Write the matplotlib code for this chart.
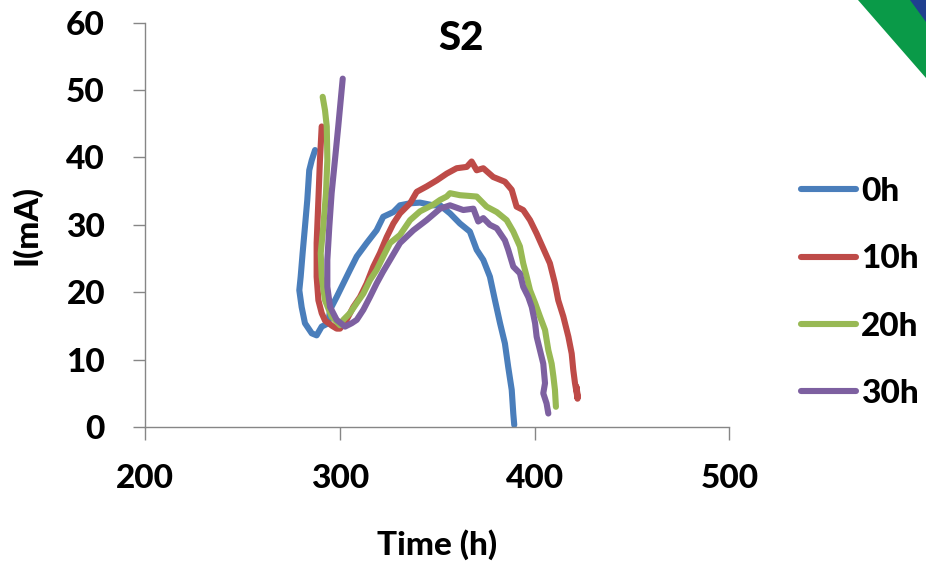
import matplotlib
matplotlib.use("Agg")
import matplotlib.pyplot as plt
from matplotlib.patches import Polygon

plt.rcParams['font.family'] = ['Lato', 'DejaVu Sans']

# ---- data (time in h, current in mA) ----
t_0h = [287.2, 285.5, 284.2, 283.2, 282.0, 280.8, 279.8, 279.1, 280.3, 282.0, 285.5, 288.0,
        290.6, 294.0, 294.9, 298.3, 301.7, 305.1, 308.6, 313.7, 318.8, 322.2, 327.4, 330.8,
        336.0, 341.1, 347.9, 351.4, 356.5, 361.6, 366.7, 370.2, 373.6, 377.0, 379.6, 382.2,
        384.7, 386.4, 388.2, 389.0, 389.5]
i_0h = [41.1, 39.6, 38.1, 33.7, 29.7, 25.8, 22.3, 20.3, 17.8, 15.4, 13.9, 13.6,
        14.9, 15.4, 17.4, 19.3, 21.3, 23.3, 25.3, 27.3, 29.2, 31.2, 31.9, 32.9,
        33.2, 33.3, 32.9, 32.9, 31.7, 30.2, 29.0, 26.3, 24.8, 22.3, 18.8, 15.4,
        12.4, 8.9, 5.5, 2.0, 0.3]

t_10h = [290.6, 289.7, 288.9, 288.0, 288.0, 288.9, 290.6, 292.3, 296.0, 298.3, 300.0, 303.4,
         306.8, 310.3, 313.7, 317.1, 320.5, 324.0, 327.4, 330.8, 336.0, 339.4, 344.5, 349.7,
         354.8, 359.9, 365.1, 367.6, 370.2, 373.6, 378.7, 384.7, 388.2, 390.7, 394.1, 397.6,
         401.0, 404.4, 407.8, 410.4, 412.1, 414.7, 417.3, 419.0, 419.8, 420.7, 421.6, 422.0,
         421.4, 422.2]
i_10h = [44.6, 39.6, 33.7, 27.3, 22.3, 18.8, 16.9, 15.8, 15.0, 14.6, 14.6, 15.9,
         17.8, 19.3, 21.3, 23.8, 25.8, 28.2, 30.2, 31.7, 33.2, 34.9, 35.7, 36.6,
         37.6, 38.4, 38.6, 39.4, 38.1, 38.4, 37.1, 36.4, 35.2, 32.7, 32.2, 30.7,
         28.7, 26.5, 24.3, 21.3, 18.8, 16.4, 13.4, 10.9, 8.5, 6.5, 5.0, 4.2,
         6.0, 4.5]

t_20h = [291.1, 292.3, 293.2, 293.5, 292.8, 291.4, 290.1, 290.6, 292.3, 295.7, 300.0, 301.7,
         305.1, 308.6, 312.0, 315.4, 318.8, 322.2, 325.7, 330.8, 336.0, 341.1, 347.9, 351.4,
         354.8, 356.5, 361.6, 366.0, 370.2, 375.3, 380.5, 385.6, 389.0, 392.4, 394.1, 395.9,
         397.6, 400.2, 402.7, 405.3, 407.0, 408.7, 409.6, 410.4, 410.9]
i_20h = [49.0, 47.0, 44.6, 39.6, 34.7, 29.7, 25.8, 22.3, 18.8, 16.4, 15.1, 15.9,
         16.9, 18.4, 19.8, 21.8, 23.3, 25.3, 27.3, 28.5, 30.7, 32.0, 33.0, 33.7,
         34.2, 34.7, 34.4, 34.3, 34.2, 32.7, 31.9, 30.7, 29.0, 26.8, 24.3, 22.3,
         20.3, 18.4, 16.4, 14.4, 11.4, 9.4, 7.5, 5.5, 3.0]

t_30h = [301.4, 299.1, 297.4, 295.7, 294.5, 293.5, 293.5, 294.9, 298.3, 302.6, 306.0, 308.6,
         312.0, 315.4, 318.8, 322.0, 325.7, 330.8, 337.7, 344.5, 351.4, 356.5, 363.3, 368.5,
         371.0, 373.6, 377.0, 380.5, 384.7, 386.4, 389.0, 392.4, 394.1, 396.7, 398.5, 400.2,
         401.0, 402.7, 404.4, 405.3, 404.4, 406.1, 407.0]
i_30h = [51.7, 44.6, 39.6, 34.7, 29.7, 24.8, 20.8, 17.8, 15.9, 14.9, 15.4, 15.9,
         17.4, 19.3, 21.3, 23.0, 24.8, 27.3, 29.2, 30.7, 32.4, 32.9, 32.2, 32.4,
         30.5, 31.0, 30.0, 29.5, 27.7, 26.3, 23.8, 22.8, 20.8, 19.3, 17.8, 15.4,
         13.4, 11.4, 9.4, 6.5, 5.0, 3.5, 2.0]

series = [("0h", t_0h, i_0h, "#4A7EBB"),
          ("10h", t_10h, i_10h, "#BE4B48"),
          ("20h", t_20h, i_20h, "#98B954"),
          ("30h", t_30h, i_30h, "#7D60A0")]

x_ticks = [200, 300, 400, 500]
y_ticks = [0, 10, 20, 30, 40, 50, 60]

FS = 24
FW = 'black'

# ---- figure ----
W, H = 926, 561
fig = plt.figure(figsize=(W / 100, H / 100), dpi=100)
ax = fig.add_axes([145.3 / W, 1 - 427 / H, (729.4 - 145.3) / W, (427 - 22.7) / H])

for name, t, i, c in series:
    ax.plot(t, i, color=c, lw=4.4, label=name, solid_capstyle='round', solid_joinstyle='round')

ax.set_xlim(200, 500)
ax.set_ylim(0, 60)
ax.set_xticks(x_ticks)
ax.set_yticks(y_ticks)

gray = "#868686"
for s in ["top", "right"]:
    ax.spines[s].set_visible(False)
for s in ["left", "bottom"]:
    ax.spines[s].set_color(gray)
    ax.spines[s].set_linewidth(1.0)
ax.tick_params(axis='both', direction='out', color=gray, width=1.0, length=9,
               labelsize=FS)
ax.tick_params(axis='y', pad=20)
ax.tick_params(axis='x', pad=18)
for lab in ax.get_xticklabels() + ax.get_yticklabels():
    lab.set_fontweight(FW)

ax.set_xlabel("Time (h)", fontsize=FS, fontweight=FW, labelpad=26)
ax.set_ylabel("I(mA)", fontsize=FS, fontweight=FW, labelpad=18)

fig.text(461 / W, 1 - 38 / H, "S2", fontsize=29, fontweight=FW, ha='center', va='center')

leg = ax.legend(loc='upper left', bbox_to_anchor=(801 / W, 1 - 177 / H),
                bbox_transform=fig.transFigure, frameon=False,
                prop={'size': FS, 'weight': FW}, handlelength=1.65,
                handletextpad=0.15, labelspacing=1.15, borderpad=0, borderaxespad=0)
for line in leg.get_lines():
    line.set_linewidth(4.4)
    line.set_solid_capstyle('round')

# decorative corner
def fc(px, py):
    return (px / W, 1 - py / H)

fig.patches.append(Polygon([fc(858, 0), fc(926, 0), fc(926, 78)], closed=True,
                           facecolor="#0A9A48", edgecolor='none', transform=fig.transFigure))
fig.patches.append(Polygon([fc(910, 0), fc(926, 0), fc(926, 22)], closed=True,
                           facecolor="#1F3F8F", edgecolor='none', transform=fig.transFigure))

fig.savefig("out.png", dpi=100)
